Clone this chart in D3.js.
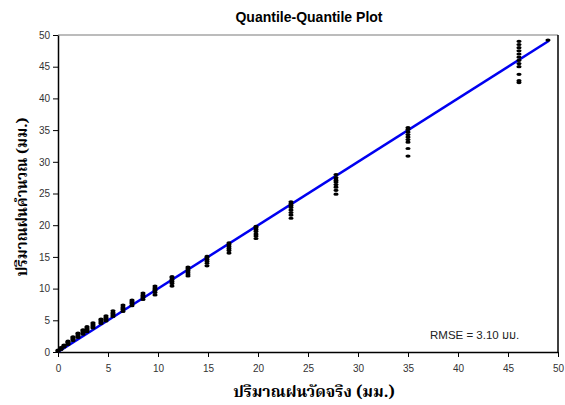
<!DOCTYPE html>
<html>
<head>
<meta charset="utf-8">
<script src="https://cdn.jsdelivr.net/npm/d3@7"></script>
<style>
  body { margin: 0; background: #fff; }
  svg { display: block; }
  .tick text { font-family: Arial, "Liberation Sans", sans-serif; font-size: 10px; fill: #333; }
  .thai { font-family: "Noto Serif Thai", "Noto Sans Thai", Tahoma, serif; fill: #000; }
</style>
</head>
<body>
<div id="chart"></div>
<script>
// CONST and GLOBALS
let margin = { top: 35, bottom: 53, left: 58, right: 7 },
  width = 565,
  height = 405;

// observed quantiles (mm) and the predicted quantiles at each of them
const obsQuantiles = [0.0, 0.3, 0.6, 1.0, 1.5, 2.0, 2.5, 2.9, 3.5, 4.3, 4.8, 5.5, 6.5, 7.4,
  8.5, 9.7, 11.4, 13.0, 14.9, 17.1, 19.8, 23.3, 27.8, 35.0, 46.1, 49.0];
const predQuantiles = [
  [0.1, 0.2, 0.3],
  [0.4, 0.5, 0.6, 0.7],
  [0.8, 0.9, 1.0, 1.1],
  [1.2, 1.4, 1.5, 1.6, 1.7],
  [1.8, 2.0, 2.1, 2.3, 2.4],
  [2.3, 2.5, 2.7, 2.9, 3.0],
  [2.8, 3.0, 3.2, 3.4, 3.5],
  [3.2, 3.4, 3.6, 3.8, 4.0],
  [3.8, 4.0, 4.2, 4.4, 4.6],
  [4.5, 4.7, 4.9, 5.1, 5.2],
  [4.9, 5.1, 5.3, 5.5, 5.7],
  [5.6, 5.8, 6.0, 6.2, 6.5],
  [6.4, 6.7, 6.9, 7.1, 7.4],
  [7.3, 7.6, 7.8, 8.0, 8.2],
  [8.3, 8.6, 8.8, 9.0, 9.3],
  [9.0, 9.4, 9.7, 9.9, 10.1, 10.4],
  [10.4, 10.8, 11.1, 11.4, 11.7, 11.9],
  [12.0, 12.3, 12.6, 12.9, 13.2, 13.4],
  [13.6, 14.0, 14.3, 14.6, 14.9, 15.1],
  [15.6, 16.0, 16.3, 16.6, 16.9, 17.2],
  [17.9, 18.3, 18.6, 19.0, 19.3, 19.6, 19.8],
  [21.1, 21.6, 22.0, 22.4, 22.8, 23.1, 23.4, 23.7],
  [24.9, 25.5, 26.0, 26.4, 26.8, 27.1, 27.5, 28.0],
  [30.9, 32.1, 33.1, 33.5, 33.9, 34.3, 34.7, 35.1, 35.4],
  [42.5, 42.8, 43.8, 45.0, 45.5, 46.0, 46.5, 47.0, 47.5, 48.0, 48.5, 49.0],
  [49.2]
];
const lineEnds = [0, 49.1]; // 1:1 line
const axisTicks = d3.range(0, 51, 5);
const titleText = "Quantile-Quantile Plot";
const xLabel = "ปริมาณฝนวัดจริง (มม.)";
const yLabel = "ปริมาณฝนคำนวณ (มม.)";
const rmseText = "RMSE = 3.10 มม.";

// flatten to points
const points = [];
obsQuantiles.forEach((o, i) => predQuantiles[i].forEach((p) => points.push({ obs: o, pred: p })));

const svg = d3.select("#chart").append("svg")
  .attr("width", width).attr("height", height);

// SCALES
const xScale = d3.scaleLinear().domain([0, 50]).range([margin.left, width - margin.right]);
const yScale = d3.scaleLinear().domain([0, 50]).range([height - margin.bottom, margin.top]);

// frame: top grey, right black
svg.append("line")
  .attr("x1", xScale(0)).attr("x2", xScale(50))
  .attr("y1", yScale(50)).attr("y2", yScale(50))
  .attr("stroke", "#a6a6a6").attr("stroke-width", 1.5);
svg.append("line")
  .attr("x1", xScale(50)).attr("x2", xScale(50))
  .attr("y1", yScale(50)).attr("y2", yScale(0))
  .attr("stroke", "#000").attr("stroke-width", 1.5);

// AXES
const xAxis = d3.axisBottom(xScale).tickValues(axisTicks).tickSize(5).tickPadding(8).tickSizeOuter(0);
const yAxis = d3.axisLeft(yScale).tickValues(axisTicks).tickSize(5).tickPadding(3).tickSizeOuter(0);

const gx = svg.append("g")
  .attr("transform", `translate(0,${yScale(0)})`)
  .call(xAxis);
const gy = svg.append("g")
  .attr("transform", `translate(${xScale(0)},0)`)
  .call(yAxis);
[gx, gy].forEach((g) => {
  g.select(".domain").attr("stroke", "#000").attr("stroke-width", 1.5);
  g.selectAll(".tick line").attr("stroke", "#000");
});

// 1:1 line
svg.append("line")
  .attr("x1", xScale(lineEnds[0])).attr("y1", yScale(lineEnds[0]))
  .attr("x2", xScale(lineEnds[1])).attr("y2", yScale(lineEnds[1]))
  .attr("stroke", "#0000f0").attr("stroke-width", 2.5);

// points
svg.selectAll(".dot")
  .data(points)
  .join("ellipse")
  .attr("class", "dot")
  .attr("cx", (d) => xScale(d.obs))
  .attr("cy", (d) => yScale(d.pred))
  .attr("rx", 2.6)
  .attr("ry", 1.6)
  .attr("fill", "#000");

// texts
svg.append("text")
  .attr("x", 309).attr("y", 22)
  .attr("text-anchor", "middle")
  .attr("font-family", "Arial, 'Liberation Sans', sans-serif")
  .attr("font-size", 14).attr("font-weight", "bold")
  .text(titleText);

svg.append("text")
  .attr("class", "thai")
  .attr("x", 314).attr("y", 397)
  .attr("text-anchor", "middle")
  .attr("font-size", 16).attr("font-weight", "bold")
  .text(xLabel);

svg.append("text")
  .attr("class", "thai")
  .attr("transform", "translate(27,197) rotate(-90)")
  .attr("text-anchor", "middle")
  .attr("font-size", 15).attr("font-weight", "bold")
  .text(yLabel);

svg.append("text")
  .attr("x", 430).attr("y", 339)
  .attr("font-family", "Arial, 'Liberation Sans', 'Noto Sans Thai', sans-serif")
  .attr("font-size", 11.5).attr("fill", "#222")
  .text(rmseText);
</script>
</body>
</html>
